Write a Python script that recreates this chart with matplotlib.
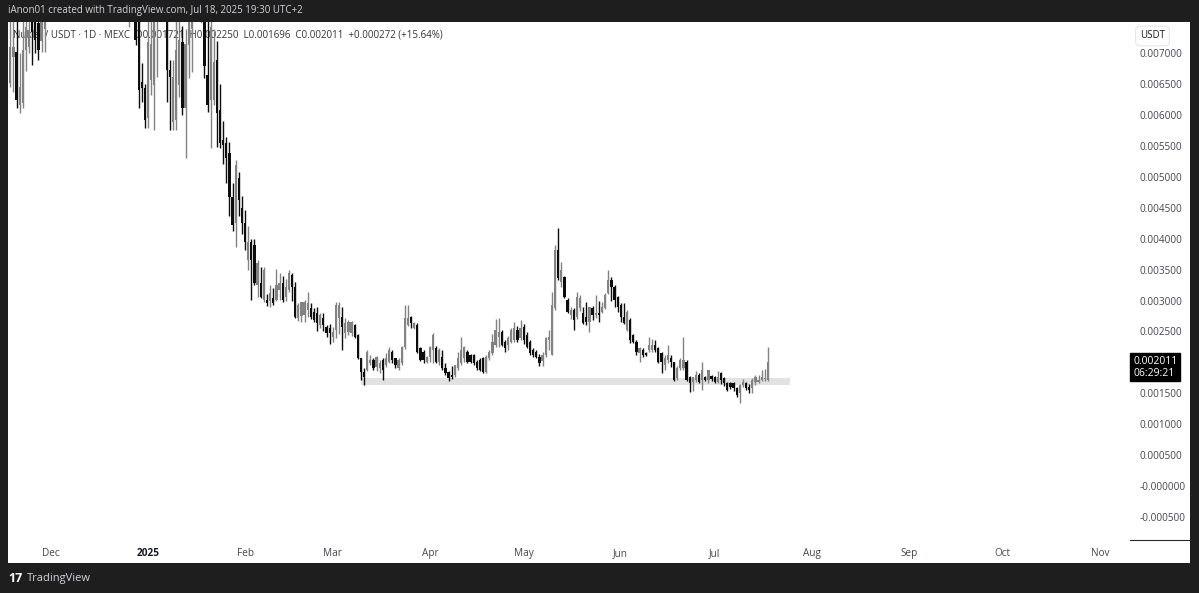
import numpy as np
import pandas as pd
import matplotlib
matplotlib.use("Agg")
import matplotlib.pyplot as plt
import matplotlib.dates as mdates
import matplotlib.transforms as mtransforms
from matplotlib.patches import Rectangle
from matplotlib.lines import Line2D

plt.rcParams['font.family'] = ['Open Sans', 'DejaVu Sans']

# daily candles NUKLAI/USDT, MEXC, starting 2024-11-18
first_day = '2024-11-18'

opens = [
    0.00652, 0.00694, 0.00702, 0.00617, 0.00620, 0.00705, 0.00710, 0.00770, 0.00750, 0.00749,
    0.00720, 0.00740, 0.00790, 0.00820, 0.00845, 0.00830, 0.00860, 0.00890, 0.00870, 0.00850,
    0.00880, 0.00920, 0.00900, 0.00880, 0.00860, 0.00890, 0.00870, 0.00850, 0.00830, 0.00860,
    0.00840, 0.00820, 0.00845, 0.00830, 0.00810, 0.00835, 0.00820, 0.00800, 0.00800, 0.00840,
    0.00810, 0.00755, 0.00654, 0.00644, 0.00595, 0.00657, 0.00649, 0.00760, 0.00800, 0.00820,
    0.00780, 0.00673, 0.00589, 0.00592, 0.00649, 0.00718, 0.00612, 0.00713, 0.00740, 0.00790,
    0.00820, 0.00800, 0.00770, 0.00665, 0.00625, 0.00625, 0.00689, 0.00608, 0.00560, 0.00555,
    0.00539, 0.00468, 0.00426, 0.00498, 0.00450, 0.00426, 0.00366, 0.00395, 0.00390, 0.00325,
    0.00328, 0.00301, 0.00301, 0.00299, 0.00304, 0.00301, 0.00317, 0.00328, 0.00306, 0.00317,
    0.00341, 0.00322, 0.00272, 0.00275, 0.00277, 0.00285, 0.00288, 0.00282, 0.00280, 0.00261,
    0.00272, 0.00257, 0.00256, 0.00241, 0.00252, 0.00272, 0.00273, 0.00248, 0.00249, 0.00248,
    0.00261, 0.00244, 0.00207, 0.00184, 0.00188, 0.00199, 0.00204, 0.00193, 0.00191, 0.00204,
    0.00196, 0.00201, 0.00217, 0.00207, 0.00191, 0.00199, 0.00225, 0.00261, 0.00273, 0.00256,
    0.00261, 0.00223, 0.00217, 0.00201, 0.00209, 0.00220, 0.00223, 0.00201, 0.00209, 0.00191,
    0.00184, 0.00180, 0.00180, 0.00191, 0.00199, 0.00207, 0.00217, 0.00212, 0.00212, 0.00201,
    0.00204, 0.00207, 0.00184, 0.00207, 0.00215, 0.00228, 0.00241, 0.00249, 0.00233, 0.00228,
    0.00233, 0.00236, 0.00252, 0.00240, 0.00257, 0.00244, 0.00233, 0.00220, 0.00217, 0.00209,
    0.00202, 0.00212, 0.00236, 0.00212, 0.00288, 0.00382, 0.00330, 0.00338, 0.00301, 0.00277,
    0.00285, 0.00273, 0.00288, 0.00280, 0.00273, 0.00265, 0.00288, 0.00277, 0.00280, 0.00282,
    0.00288, 0.00312, 0.00333, 0.00322, 0.00306, 0.00293, 0.00273, 0.00252, 0.00269, 0.00244,
    0.00233, 0.00215, 0.00220, 0.00215, 0.00220, 0.00220, 0.00228, 0.00223, 0.00215, 0.00196,
    0.00204, 0.00207, 0.00201, 0.00175, 0.00191, 0.00191, 0.00201, 0.00176, 0.00168, 0.00172,
    0.00180, 0.00172, 0.00176, 0.00172, 0.00178, 0.00176, 0.00168, 0.00183, 0.00175, 0.00167,
    0.00167, 0.00167, 0.00159, 0.00150, 0.00163, 0.00167, 0.00160, 0.00159, 0.00168, 0.00168,
    0.00172, 0.00173, 0.001721,
]
highs = [
    0.00780, 0.00760, 0.00770, 0.00700, 0.00760, 0.00790, 0.00800, 0.00800, 0.00790, 0.00780,
    0.00800, 0.00820, 0.00840, 0.00860, 0.00880, 0.00870, 0.00910, 0.00930, 0.00900, 0.00890,
    0.00950, 0.00960, 0.00940, 0.00910, 0.00900, 0.00930, 0.00900, 0.00880, 0.00870, 0.00890,
    0.00870, 0.00860, 0.00880, 0.00860, 0.00850, 0.00870, 0.00850, 0.00840, 0.00870, 0.00880,
    0.00830, 0.00780, 0.00685, 0.00650, 0.00770, 0.00780, 0.00800, 0.00830, 0.00850, 0.00860,
    0.00800, 0.00690, 0.00689, 0.00755, 0.00780, 0.00745, 0.00740, 0.00800, 0.00830, 0.00850,
    0.00860, 0.00830, 0.00800, 0.00760, 0.00770, 0.00740, 0.00720, 0.00650, 0.00590, 0.00565,
    0.00557, 0.00490, 0.00527, 0.00508, 0.00470, 0.00447, 0.00420, 0.00400, 0.00400, 0.00365,
    0.00354, 0.00354, 0.00310, 0.00325, 0.00320, 0.00351, 0.00345, 0.00340, 0.00335, 0.00350,
    0.00345, 0.00330, 0.00296, 0.00298, 0.00301, 0.00314, 0.00296, 0.00288, 0.00290, 0.00280,
    0.00280, 0.00260, 0.00262, 0.00257, 0.00298, 0.00298, 0.00290, 0.00272, 0.00268, 0.00267,
    0.00262, 0.00246, 0.00207, 0.00191, 0.00220, 0.00212, 0.00207, 0.00210, 0.00204, 0.00207,
    0.00216, 0.00225, 0.00220, 0.00207, 0.00207, 0.00227, 0.00293, 0.00293, 0.00275, 0.00265,
    0.00264, 0.00225, 0.00220, 0.00210, 0.00227, 0.00248, 0.00227, 0.00223, 0.00220, 0.00199,
    0.00186, 0.00194, 0.00196, 0.00217, 0.00241, 0.00227, 0.00220, 0.00214, 0.00214, 0.00204,
    0.00207, 0.00209, 0.00212, 0.00220, 0.00246, 0.00270, 0.00272, 0.00252, 0.00236, 0.00243,
    0.00256, 0.00265, 0.00259, 0.00269, 0.00262, 0.00249, 0.00236, 0.00223, 0.00220, 0.00214,
    0.00217, 0.00241, 0.00252, 0.00314, 0.00390, 0.00417, 0.00362, 0.00340, 0.00304, 0.00290,
    0.00288, 0.00314, 0.00309, 0.00290, 0.00298, 0.00290, 0.00291, 0.00309, 0.00299, 0.00298,
    0.00312, 0.00349, 0.00338, 0.00325, 0.00307, 0.00296, 0.00296, 0.00285, 0.00272, 0.00246,
    0.00236, 0.00225, 0.00223, 0.00217, 0.00241, 0.00238, 0.00236, 0.00225, 0.00217, 0.00212,
    0.00228, 0.00212, 0.00201, 0.00194, 0.00207, 0.00241, 0.00204, 0.00178, 0.00176, 0.00186,
    0.00183, 0.00201, 0.00178, 0.00188, 0.00180, 0.00178, 0.00186, 0.00185, 0.00176, 0.00168,
    0.00168, 0.00168, 0.00160, 0.00165, 0.00173, 0.00168, 0.00165, 0.00175, 0.00180, 0.00180,
    0.00188, 0.00189, 0.002250,
]
lows = [
    0.00645, 0.00638, 0.00612, 0.00604, 0.00612, 0.00672, 0.00700, 0.00681, 0.00700, 0.00690,
    0.00702, 0.00702, 0.00770, 0.00790, 0.00810, 0.00800, 0.00830, 0.00850, 0.00830, 0.00820,
    0.00860, 0.00880, 0.00860, 0.00840, 0.00830, 0.00850, 0.00830, 0.00810, 0.00800, 0.00820,
    0.00800, 0.00790, 0.00810, 0.00790, 0.00780, 0.00800, 0.00790, 0.00780, 0.00743, 0.00770,
    0.00714, 0.00612, 0.00622, 0.00579, 0.00579, 0.00632, 0.00576, 0.00662, 0.00770, 0.00760,
    0.00622, 0.00576, 0.00576, 0.00576, 0.00630, 0.00600, 0.00531, 0.00660, 0.00670, 0.00770,
    0.00770, 0.00750, 0.00660, 0.00605, 0.00547, 0.00617, 0.00549, 0.00547, 0.00521, 0.00490,
    0.00437, 0.00412, 0.00387, 0.00437, 0.00408, 0.00382, 0.00350, 0.00301, 0.00325, 0.00306,
    0.00304, 0.00298, 0.00291, 0.00289, 0.00293, 0.00299, 0.00301, 0.00298, 0.00299, 0.00314,
    0.00299, 0.00272, 0.00267, 0.00265, 0.00265, 0.00273, 0.00270, 0.00265, 0.00251, 0.00256,
    0.00251, 0.00241, 0.00230, 0.00233, 0.00240, 0.00246, 0.00220, 0.00240, 0.00244, 0.00243,
    0.00239, 0.00205, 0.00172, 0.00163, 0.00186, 0.00196, 0.00188, 0.00186, 0.00183, 0.00172,
    0.00193, 0.00199, 0.00199, 0.00191, 0.00188, 0.00196, 0.00222, 0.00259, 0.00256, 0.00254,
    0.00215, 0.00202, 0.00199, 0.00199, 0.00201, 0.00199, 0.00199, 0.00196, 0.00188, 0.00180,
    0.00170, 0.00173, 0.00176, 0.00188, 0.00196, 0.00201, 0.00199, 0.00199, 0.00196, 0.00188,
    0.00186, 0.00183, 0.00183, 0.00204, 0.00212, 0.00225, 0.00225, 0.00226, 0.00217, 0.00220,
    0.00231, 0.00233, 0.00233, 0.00236, 0.00230, 0.00223, 0.00212, 0.00209, 0.00207, 0.00194,
    0.00194, 0.00209, 0.00220, 0.00212, 0.00285, 0.00333, 0.00322, 0.00304, 0.00280, 0.00270,
    0.00252, 0.00270, 0.00283, 0.00262, 0.00260, 0.00249, 0.00269, 0.00272, 0.00265, 0.00280,
    0.00286, 0.00310, 0.00299, 0.00290, 0.00281, 0.00265, 0.00262, 0.00251, 0.00231, 0.00231,
    0.00212, 0.00201, 0.00209, 0.00210, 0.00217, 0.00217, 0.00217, 0.00199, 0.00183, 0.00188,
    0.00199, 0.00193, 0.00170, 0.00172, 0.00188, 0.00188, 0.00170, 0.00152, 0.00154, 0.00168,
    0.00167, 0.00156, 0.00170, 0.00167, 0.00170, 0.00167, 0.00167, 0.00165, 0.00162, 0.00154,
    0.00157, 0.00154, 0.00144, 0.00134, 0.00160, 0.00155, 0.00151, 0.00151, 0.00164, 0.00167,
    0.00170, 0.00170, 0.001696,
]
closes = [
    0.00710, 0.00710, 0.00625, 0.00646, 0.00705, 0.00743, 0.00738, 0.00735, 0.00722, 0.00705,
    0.00775, 0.00790, 0.00820, 0.00845, 0.00830, 0.00860, 0.00890, 0.00870, 0.00850, 0.00880,
    0.00920, 0.00900, 0.00880, 0.00860, 0.00890, 0.00870, 0.00850, 0.00830, 0.00860, 0.00840,
    0.00820, 0.00845, 0.00830, 0.00810, 0.00835, 0.00820, 0.00800, 0.00815, 0.00840, 0.00810,
    0.00722, 0.00641, 0.00644, 0.00592, 0.00718, 0.00716, 0.00755, 0.00800, 0.00820, 0.00790,
    0.00673, 0.00662, 0.00662, 0.00705, 0.00722, 0.00612, 0.00716, 0.00750, 0.00790, 0.00820,
    0.00800, 0.00770, 0.00680, 0.00617, 0.00743, 0.00686, 0.00604, 0.00555, 0.00552, 0.00531,
    0.00468, 0.00422, 0.00519, 0.00463, 0.00426, 0.00395, 0.00395, 0.00366, 0.00328, 0.00361,
    0.00306, 0.00350, 0.00296, 0.00312, 0.00296, 0.00325, 0.00328, 0.00301, 0.00322, 0.00345,
    0.00322, 0.00273, 0.00293, 0.00298, 0.00298, 0.00296, 0.00273, 0.00269, 0.00264, 0.00277,
    0.00261, 0.00248, 0.00248, 0.00249, 0.00293, 0.00293, 0.00257, 0.00264, 0.00265, 0.00265,
    0.00241, 0.00207, 0.00184, 0.00176, 0.00217, 0.00204, 0.00191, 0.00209, 0.00199, 0.00188,
    0.00207, 0.00220, 0.00204, 0.00196, 0.00204, 0.00225, 0.00272, 0.00272, 0.00264, 0.00264,
    0.00217, 0.00204, 0.00204, 0.00209, 0.00225, 0.00244, 0.00201, 0.00220, 0.00191, 0.00183,
    0.00175, 0.00176, 0.00196, 0.00207, 0.00220, 0.00225, 0.00201, 0.00201, 0.00199, 0.00191,
    0.00188, 0.00184, 0.00209, 0.00217, 0.00233, 0.00252, 0.00249, 0.00228, 0.00223, 0.00240,
    0.00252, 0.00256, 0.00236, 0.00256, 0.00236, 0.00225, 0.00215, 0.00212, 0.00209, 0.00199,
    0.00212, 0.00240, 0.00241, 0.00293, 0.00382, 0.00337, 0.00350, 0.00306, 0.00282, 0.00285,
    0.00269, 0.00306, 0.00304, 0.00264, 0.00265, 0.00290, 0.00277, 0.00280, 0.00277, 0.00290,
    0.00309, 0.00333, 0.00322, 0.00301, 0.00290, 0.00273, 0.00264, 0.00282, 0.00236, 0.00233,
    0.00217, 0.00223, 0.00212, 0.00212, 0.00228, 0.00228, 0.00220, 0.00201, 0.00201, 0.00207,
    0.00212, 0.00201, 0.00172, 0.00191, 0.00204, 0.00204, 0.00172, 0.00167, 0.00176, 0.00180,
    0.00168, 0.00188, 0.00172, 0.00188, 0.00173, 0.00168, 0.00176, 0.00172, 0.00167, 0.00155,
    0.00160, 0.00159, 0.00147, 0.00163, 0.00168, 0.00159, 0.00155, 0.00172, 0.00176, 0.00172,
    0.00176, 0.001739, 0.002011,
]

# support zone drawn on the chart
zone_start, zone_end = '2025-03-10', '2025-07-25'
zone_low, zone_high = 0.00163, 0.00175

# 0.002000 sits under the last price label, so it has no text
price_ticks = [-0.0005, 0.0, 0.0005, 0.001, 0.0015, 0.002, 0.0025, 0.003, 0.0035,
               0.004, 0.0045, 0.005, 0.0055, 0.006, 0.0065, 0.007]
price_labels = ['-0.000500', '-0.000000', '0.000500', '0.001000', '0.001500', '',
                '0.002500', '0.003000', '0.003500', '0.004000', '0.004500', '0.005000',
                '0.005500', '0.006000', '0.006500', '0.007000']
month_ticks = ['2024-12-01', '2025-01-01', '2025-02-01', '2025-03-01', '2025-04-01', '2025-05-01',
               '2025-06-01', '2025-07-01', '2025-08-01', '2025-09-01', '2025-10-01', '2025-11-01']
month_labels = ['Dec', '2025', 'Feb', 'Mar', 'Apr', 'May', 'Jun', 'Jul', 'Aug', 'Sep', 'Oct', 'Nov']

opens = np.array(opens); highs = np.array(highs)
lows = np.array(lows); closes = np.array(closes)
d = mdates.date2num(pd.date_range(first_day, periods=len(closes)))

UP = '#828282'
DOWN = '#0d0d0d'
BG = '#1e1e1e'

W, H = 1199, 593
fig = plt.figure(figsize=(W / 100, H / 100), dpi=100, facecolor=BG)

# white chart panel
fig.patches.append(Rectangle((8 / W, (H - 563) / H), (1190 - 8) / W, (563 - 22) / H,
                             transform=fig.transFigure, fc='white', ec='none', zorder=0))

ax = fig.add_axes([8 / W, (H - 540) / H, 1120 / W, 518 / H])
ax.set_zorder(2)
ax.set_facecolor('white')

colors = np.where(closes >= opens, UP, DOWN)
ax.vlines(d, lows, highs, colors=colors, linewidth=1.0, zorder=3)
body_lo = np.minimum(opens, closes)
body_h = np.maximum(np.abs(closes - opens), 0.00002)
ax.bar(d, body_h, bottom=body_lo, width=0.72, color=colors, linewidth=0, zorder=4)

z0 = mdates.date2num(pd.Timestamp(zone_start))
z1 = mdates.date2num(pd.Timestamp(zone_end))
ax.add_patch(Rectangle((z0, zone_low), z1 - z0, zone_high - zone_low,
                       fc='#e2e2e2', ec='none', zorder=2))

ax.set_xlim(d[0] - 0.73, d[0] + 357.0)
ax.set_ylim(-0.000874, 0.007508)

for s in ax.spines.values():
    s.set_visible(False)

ax.yaxis.tick_right()
ax.set_yticks(price_ticks)
ax.set_yticklabels(price_labels)
ax.tick_params(axis='y', length=0, pad=8, labelsize=7.2, labelcolor='#434651')

ax.set_xticks(mdates.date2num(pd.to_datetime(month_ticks)))
ax.set_xticklabels(month_labels)
ax.tick_params(axis='x', length=0, pad=6, labelsize=7.2, labelcolor='#434651')
for t in ax.get_xticklabels():
    if t.get_text() == '2025':
        t.set_fontweight('bold')
        t.set_color('#131722')

# legend line
chg = closes[-1] - closes[-2]
legend = (f"Nuklai / USDT \u00b7 1D \u00b7 MEXC  O{opens[-1]:.6f}  H{highs[-1]:.6f}  "
          f"L{lows[-1]:.6f}  C{closes[-1]:.6f}  {chg:+.6f} ({chg / closes[-2] * 100:+.2f}%)")
ax.text(5 / 1120, 1 - 13 / 518, legend, transform=ax.transAxes, fontsize=7,
        color='#333333', va='center', ha='left', zorder=1)

# last price label
trans = mtransforms.blended_transform_factory(fig.transFigure, ax.transData)
trans = mtransforms.offset_copy(trans, fig=fig, y=6, units='dots')
ax.text(1133 / W, closes[-1], f"{closes[-1]:.6f}\n06:29:21", transform=trans,
        fontsize=7.5, color='white', va='top', ha='left', linespacing=1.1,
        bbox=dict(boxstyle='square,pad=0.25', fc='black', ec='black'), clip_on=False, zorder=10)

# price scale header
fig.text(1140 / W, 1 - 36 / H, 'USDT', fontsize=7, color='#131722', va='center', ha='left',
         bbox=dict(boxstyle='round,pad=0.45', fc='white', ec='#e6e6e6', lw=0.8), zorder=5)
fig.add_artist(Line2D([1130 / W, 1190 / W], [(H - 539.5) / H] * 2, color='#2a2a2a', lw=0.8,
                      zorder=5))

# top bar and footer
fig.text(8 / W, 1 - 11 / H, 'iAnon01 created with TradingView.com, Jul 18, 2025 19:30 UTC+2',
         fontsize=7, color='#d1d4dc', va='center', ha='left')
fig.text(8 / W, 1 - 578 / H, '17', fontsize=9, fontweight='bold', color='white',
         va='center', ha='left')
fig.text(27 / W, 1 - 578 / H, 'TradingView', fontsize=8, color='#d1d4dc', va='center', ha='left')

fig.savefig('out.png', dpi=100, facecolor=BG)
